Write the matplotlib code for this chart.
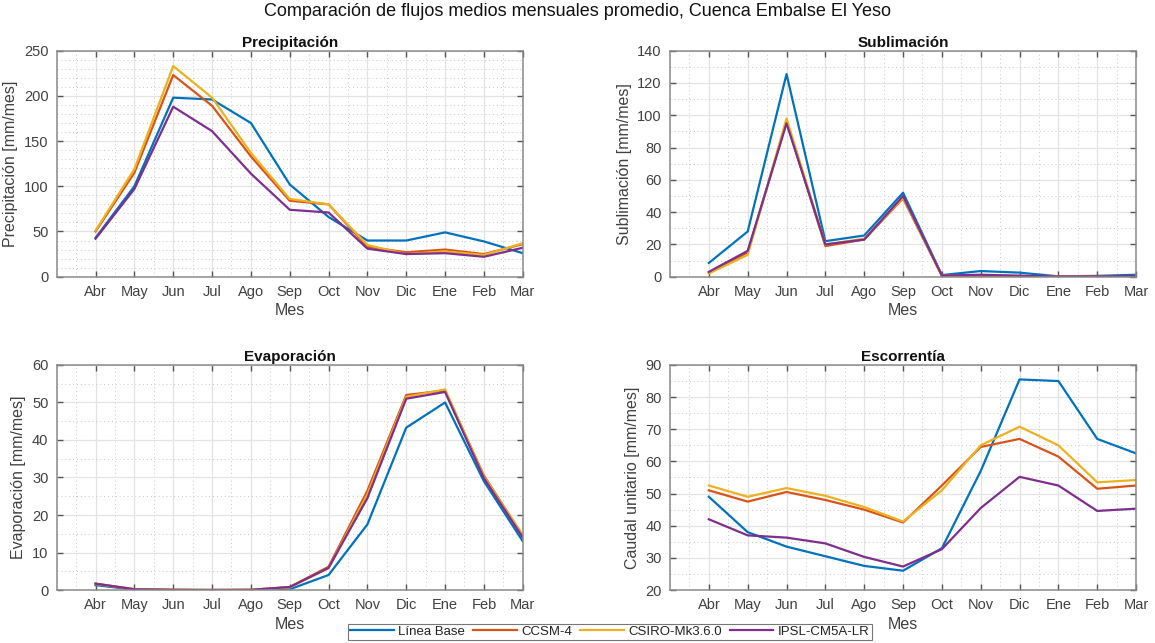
import matplotlib.pyplot as plt
from matplotlib.ticker import MultipleLocator
import numpy as np

plt.rcParams['font.family'] = ['Liberation Sans', 'DejaVu Sans']

meses = ['Abr', 'May', 'Jun', 'Jul', 'Ago', 'Sep', 'Oct', 'Nov', 'Dic', 'Ene', 'Feb', 'Mar']
series = ['Línea Base', 'CCSM-4', 'CSIRO-Mk3.6.0', 'IPSL-CM5A-LR']
colores = ['#0072BD', '#D95319', '#EDB120', '#7E2F8E']

# Precipitación [mm/mes]
pp_base = [43, 100, 198, 196, 170, 102, 66, 40, 40, 49, 39, 26]
pp_ccsm = [50, 115, 223, 189, 133, 84, 80, 33, 27, 30, 25, 36]
pp_csiro = [51, 119, 233, 198, 137, 86, 80, 35, 25, 28, 24, 37]
pp_ipsl = [42, 97, 188, 161, 114, 74, 71, 31, 25, 26, 22, 32]

# Sublimación [mm/mes]
sub_base = [8.5, 28, 125.5, 22, 25.5, 52, 1, 3.5, 2.5, 0.2, 0.5, 1.2]
sub_ccsm = [2.5, 15, 96, 19, 23, 48.5, 0.5, 0.5, 0.3, 0, 0.2, 0.3]
sub_csiro = [2, 13.5, 98, 20, 23.5, 49, 0.6, 1, 0.5, 0.1, 0.2, 0.4]
sub_ipsl = [3, 16, 95, 20, 23, 50, 0.7, 1.2, 0.6, 0.1, 0.2, 0.4]

# Evaporación [mm/mes]
ev_base = [1.3, 0.1, 0, 0, 0, 0.2, 4, 17.5, 43.3, 50, 29, 13]
ev_ccsm = [1.7, 0.2, 0.05, 0, 0.05, 0.8, 6.2, 26.5, 52, 53.2, 30.5, 14.5]
ev_csiro = [1.6, 0.2, 0.05, 0, 0.05, 0.7, 5.8, 25.5, 51.5, 53.5, 30.2, 14.7]
ev_ipsl = [1.7, 0.2, 0.05, 0, 0.05, 0.8, 5.9, 24.5, 51, 52.8, 29.8, 14]

# Escorrentía, caudal unitario [mm/mes]
q_base = [49, 38, 33.5, 30.5, 27.5, 26, 33, 57, 85.5, 85, 67, 62.5]
q_ccsm = [51, 47.5, 50.5, 48, 45, 41, 52.5, 64.5, 67, 61.5, 51.5, 52.5]
q_csiro = [52.5, 49, 51.7, 49.3, 45.8, 41.3, 51, 65, 70.8, 65, 53.5, 54.2]
q_ipsl = [42, 37, 36.3, 34.5, 30.3, 27.3, 32.7, 45.5, 55.2, 52.5, 44.6, 45.3]

paneles = [
    ('Precipitación', 'Precipitación [mm/mes]', [pp_base, pp_ccsm, pp_csiro, pp_ipsl], (0, 250), 50, 10),
    ('Sublimación', 'Sublimación [mm/mes]', [sub_base, sub_ccsm, sub_csiro, sub_ipsl], (0, 140), 20, 10),
    ('Evaporación', 'Evaporación [mm/mes]', [ev_base, ev_ccsm, ev_csiro, ev_ipsl], (0, 60), 10, 5),
    ('Escorrentía', 'Caudal unitario [mm/mes]', [q_base, q_ccsm, q_csiro, q_ipsl], (20, 90), 10, 5),
]

posiciones = [
    [0.0491, 0.5697, 0.4035, 0.3515],
    [0.5801, 0.5697, 0.4035, 0.3515],
    [0.0491, 0.0824, 0.4035, 0.3500],
    [0.5801, 0.0824, 0.4035, 0.3500],
]

gris = '#404040'
fig = plt.figure(figsize=(11.55, 6.43), dpi=100)
x = np.arange(1, 13)
lineas = []

for pos, (titulo, ylab, datos, ylim, mayor, menor) in zip(posiciones, paneles):
    ax = fig.add_axes(pos)
    for d, c, s in zip(datos, colores, series):
        l, = ax.plot(x, d, color=c, lw=1.6, label=s)
        if len(lineas) < 4:
            lineas.append(l)
    ax.set_xlim(0, 12)
    ax.set_ylim(*ylim)
    ax.set_xticks(x)
    ax.set_xticklabels(meses)
    ax.xaxis.set_minor_locator(MultipleLocator(0.5))
    ax.yaxis.set_major_locator(MultipleLocator(mayor))
    ax.yaxis.set_minor_locator(MultipleLocator(menor))
    ax.grid(which='major', color='#e3e3e3', lw=0.9, ls='-')
    ax.grid(which='minor', color='#c8c8c8', lw=0.7, ls=(0, (1, 3)))
    ax.set_axisbelow(True)
    ax.tick_params(which='major', direction='in', length=4, width=1, color='#555555',
                   top=True, right=True, labelsize=10.5, labelcolor=gris, pad=6)
    ax.tick_params(which='minor', length=0)
    for sp in ax.spines.values():
        sp.set_color('#8a8a8a')
        sp.set_linewidth(1.1)
    ax.set_title(titulo, fontsize=11, fontweight='bold', color='#111111', pad=3)
    ax.set_ylabel(ylab, fontsize=11.5, color=gris, labelpad=4)
    ax.set_xlabel('Mes', fontsize=11.5, color=gris, labelpad=3)

fig.suptitle('Comparación de flujos medios mensuales promedio, Cuenca Embalse El Yeso',
             fontsize=13, y=0.995, color='#111111')

leg = fig.legend(lineas, series, loc='upper center', bbox_to_anchor=(0.528, 0.03),
                 ncol=4, fontsize=9.5, frameon=True, fancybox=False, edgecolor='#555555',
                 handlelength=3.3, columnspacing=0.6, handletextpad=0.35, borderpad=0.15,
                 borderaxespad=0.0)
leg.get_frame().set_linewidth(0.8)
for t in leg.get_texts():
    t.set_color('#222222')

fig.savefig('out.png', dpi=100)
